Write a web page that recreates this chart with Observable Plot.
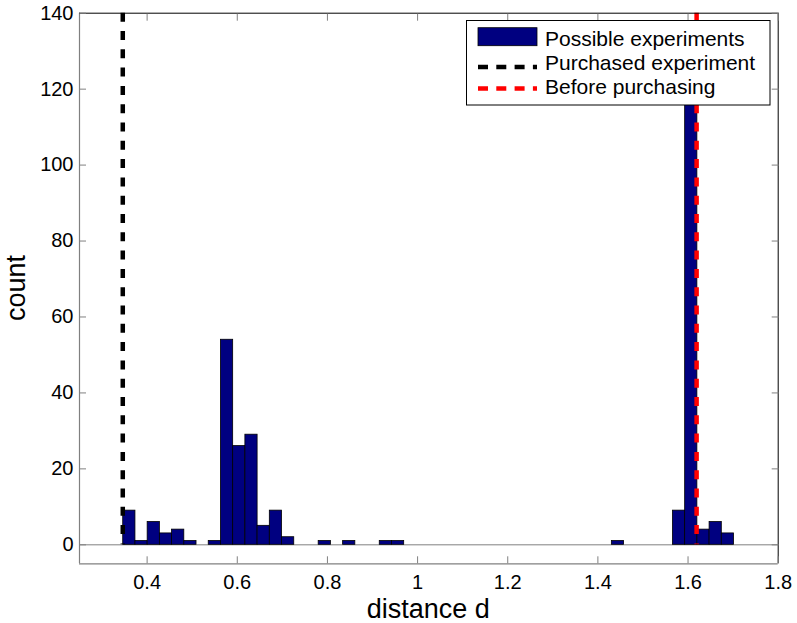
<!DOCTYPE html>
<html><head><meta charset="utf-8">
<script src="https://cdn.jsdelivr.net/npm/d3@7"></script>
<script src="https://cdn.jsdelivr.net/npm/@observablehq/plot@0.6"></script>
<style>
body{margin:0;background:#fff}
svg{display:block}
</style>
</head><body><div id="chart"></div>
<script>
// Histogram: 50 equal bins between the smallest and largest distance
const binStart = 0.347;
const binWidth = 0.0271;
const binCounts = [9,1,6,3,4,1,0,1,54,26,29,5,9,2,0,0,1,0,1,0,0,1,1,0,0,0,0,0,0,0,0,0,0,0,0,0,0,0,0,0,1,0,0,0,0,9,123,4,6,3];
const purchased = [0.346];
const beforePurchasing = [1.619];
const xTicks = [0.4, 0.6, 0.8, 1, 1.2, 1.4, 1.6, 1.8];
const yTicks = [0, 20, 40, 60, 80, 100, 120, 140];
const xDomain = [0.25, 1.8];
const yDomain = [-5, 140];
const legendLabels = ["Possible experiments", "Purchased experiment", "Before purchasing"];
const xLabel = "distance d";
const yLabel = "count";

const bins = binCounts.map((c, i) => ({x1: binStart + i * binWidth, x2: binStart + (i + 1) * binWidth, count: c}))
  .filter(d => d.count > 0);

const navy = "#000080";
const axisGray = "#808080";
const font = "'Liberation Sans', Arial, Helvetica, sans-serif";

const W = 797, H = 623;
const mL = 79, mR = 19.3, mT = 12.7, mB = 59.7;

const plot = Plot.plot({
  width: W, height: H,
  marginLeft: mL, marginRight: mR, marginTop: mT, marginBottom: mB,
  style: {fontFamily: font, fontSize: "20px", color: "#000", background: "#fff"},
  x: {domain: xDomain},
  y: {domain: yDomain},
  marks: [
    Plot.ruleY([0], {stroke: axisGray, strokeWidth: 1}),
    Plot.rect(bins, {x1: "x1", x2: "x2", y1: 0, y2: "count", fill: navy, stroke: "#000", strokeWidth: 0.8}),
    Plot.ruleX(purchased, {x: d => d, y1: yDomain[1], y2: 0, stroke: "#000", strokeWidth: 4.5, strokeDasharray: "9,9.3"}),
    Plot.ruleX(beforePurchasing, {x: d => d, y1: yDomain[1], y2: 0, stroke: "#ff0000", strokeWidth: 4.5, strokeDasharray: "9,9.3"}),
    // frame
    Plot.ruleX([xDomain[0]], {stroke: axisGray, strokeWidth: 1.2}),
    Plot.ruleY([yDomain[0]], {stroke: axisGray, strokeWidth: 1.2}),
    Plot.ruleX([xDomain[1]], {stroke: "#000", strokeWidth: 1}),
    Plot.ruleY([yDomain[1]], {stroke: "#000", strokeWidth: 1}),
    // inward ticks
    Plot.axisX(xTicks, {anchor: "bottom", tickSize: -7, tickFormat: () => "", stroke: axisGray, label: null}),
    Plot.axisX(xTicks, {anchor: "top", tickSize: -7, tickFormat: () => "", stroke: axisGray, label: null}),
    Plot.axisY(yTicks, {anchor: "left", tickSize: -7, tickFormat: () => "", stroke: axisGray, label: null}),
    Plot.axisY(yTicks, {anchor: "right", tickSize: -7, tickFormat: () => "", stroke: axisGray, label: null}),
    // tick labels
    Plot.axisX(xTicks, {anchor: "bottom", tickSize: 0, tickPadding: 11, tickFormat: d => String(d), fontSize: 20, label: null, fill: "#000"}),
    Plot.axisY(yTicks, {anchor: "left", tickSize: 0, tickPadding: 6, tickFormat: d => String(d), fontSize: 20, label: null, fill: "#000"})
  ]
});

document.getElementById("chart").appendChild(plot);

const svg = d3.select(plot);
// axis titles
svg.append("text").attr("x", (mL + W - mR) / 2).attr("y", 618)
  .attr("text-anchor", "middle").attr("font-size", 27).attr("font-family", font).attr("fill", "#000").text(xLabel);
svg.append("text").attr("transform", `translate(25,${(mT + H - mB) / 2}) rotate(-90)`)
  .attr("text-anchor", "middle").attr("font-size", 27).attr("font-family", font).attr("fill", "#000").text(yLabel);

// legend
const lg = svg.append("g").attr("font-family", font).attr("font-size", 21).attr("text-anchor", "start");
lg.append("rect").attr("x", 466.5).attr("y", 20.5).attr("width", 303.5).attr("height", 84.5)
  .attr("fill", "#fff").attr("stroke", "#000").attr("stroke-width", 1);
lg.append("rect").attr("x", 478).attr("y", 27.7).attr("width", 59).attr("height", 18)
  .attr("fill", navy).attr("stroke", "#000").attr("stroke-width", 0.8);
lg.append("line").attr("x1", 478).attr("x2", 537).attr("y1", 67).attr("y2", 67)
  .attr("stroke", "#000").attr("stroke-width", 4.5).attr("stroke-dasharray", "10,8.3");
lg.append("line").attr("x1", 478).attr("x2", 537).attr("y1", 88.5).attr("y2", 88.5)
  .attr("stroke", "#ff0000").attr("stroke-width", 4.5).attr("stroke-dasharray", "10,8.3");
[45.7, 69.7, 93.7].forEach((y, i) => {
  lg.append("text").attr("x", 545).attr("y", y).attr("text-anchor", "start").attr("fill", "#000").text(legendLabels[i]);
});
</script>
</body></html>
